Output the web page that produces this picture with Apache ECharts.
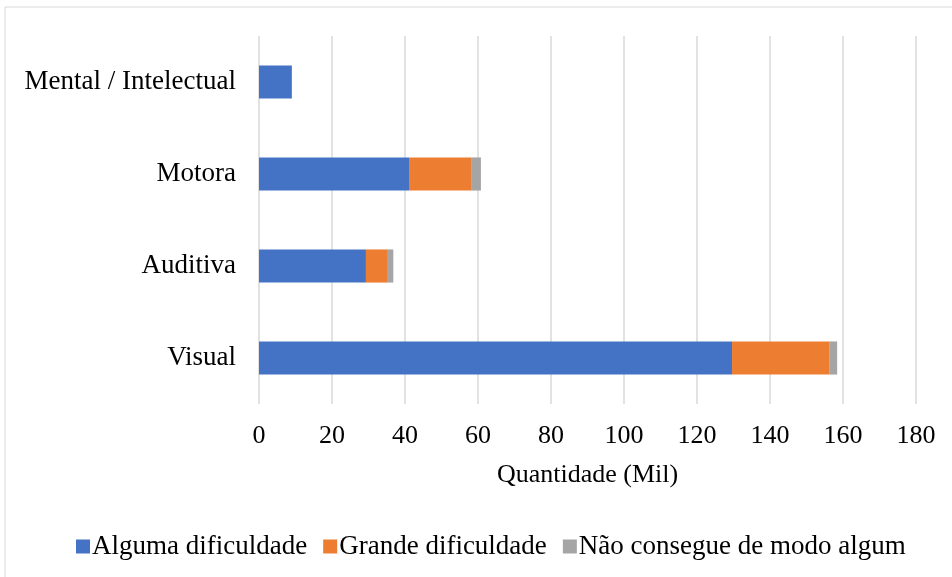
<!DOCTYPE html>
<html>
<head>
<meta charset="utf-8">
<script src="https://cdn.jsdelivr.net/npm/echarts@6/dist/echarts.min.js"></script>
<style>
  html, body { margin: 0; padding: 0; background: #fff; }
  #chart { width: 952px; height: 577px; }
</style>
</head>
<body>
<div id="chart"></div>
<script>
var categories = ['Visual', 'Auditiva', 'Motora', 'Mental / Intelectual'];
var alguma = [129.6, 29.3, 41.1, 9.0];
var grande = [26.6, 6.0, 17.0, 0];
var naoConsegue = [2.2, 1.5, 2.7, 0];
var seriesNames = ['Alguma dificuldade', 'Grande dificuldade', 'Não consegue de modo algum'];
var colors = ['#4472c4', '#ed7d31', '#a5a5a5'];

var font = '"Liberation Serif", "Times New Roman", serif';

function makeBar(name, data, color) {
  return {
    name: name,
    type: 'bar',
    stack: 'total',
    data: data,
    barWidth: '36%',
    itemStyle: { color: color },
    emphasis: { disabled: true }
  };
}

var myChart = echarts.init(document.getElementById('chart'));
var option = {
  animation: false,
  color: colors,
  graphic: [{
    type: 'rect',
    shape: { x: 5, y: 7, width: 960, height: 580 },
    style: { fill: 'none', stroke: '#d9d9d9', lineWidth: 1 },
    silent: true
  }],
  grid: { left: 259, right: 36, top: 36, bottom: 173, containLabel: false },
  legend: {
    data: seriesNames,
    top: 528,
    left: 71,
    itemWidth: 14,
    itemHeight: 14,
    itemGap: 16,
    icon: 'rect',
    textStyle: { fontFamily: font, fontSize: 27, color: '#000', padding: [0, 0, 0, -3] }
  },
  xAxis: {
    type: 'value',
    min: 0,
    max: 180,
    interval: 20,
    name: 'Quantidade (Mil)',
    nameLocation: 'middle',
    nameGap: 58,
    nameTextStyle: { fontFamily: font, fontSize: 26, color: '#000' },
    axisLine: { show: false },
    axisTick: { show: false },
    axisLabel: { fontFamily: font, fontSize: 26, color: '#000', margin: 19 },
    splitLine: { lineStyle: { color: '#d9d9d9', width: 1.5 } }
  },
  yAxis: {
    type: 'category',
    data: categories,
    axisLine: { show: false },
    axisTick: { show: false },
    axisLabel: { fontFamily: font, fontSize: 27, color: '#000', margin: 23 }
  },
  series: [
    makeBar(seriesNames[0], alguma, colors[0]),
    makeBar(seriesNames[1], grande, colors[1]),
    makeBar(seriesNames[2], naoConsegue, colors[2])
  ]
};
myChart.setOption(option);
</script>
</body>
</html>
